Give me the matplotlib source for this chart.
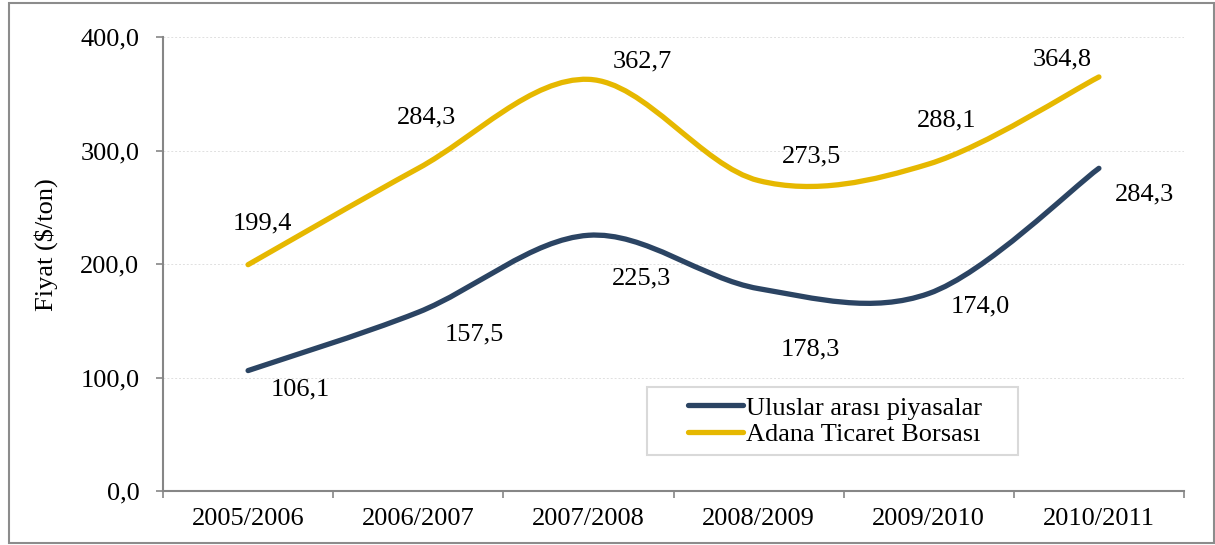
import matplotlib
matplotlib.use("Agg")
import matplotlib.pyplot as plt
from matplotlib.path import Path
from matplotlib.patches import PathPatch, Rectangle
from matplotlib.lines import Line2D

categories = ["2005/2006", "2006/2007", "2007/2008", "2008/2009", "2009/2010", "2010/2011"]
uluslar = [106.1, 157.5, 225.3, 178.3, 174.0, 284.3]
adana = [199.4, 284.3, 362.7, 273.5, 288.1, 364.8]
series_names = ["Uluslar arası piyasalar", "Adana Ticaret Borsası"]
yticks = [0, 100, 200, 300, 400]

# label offsets in pixels (dx, dy up)
off_adana = [(14, 41), (8, 51), (54, 18), (53, 24), (18, 44), (-37, 17)]
off_ulus = [(52, -19), (56, -22), (53, -43), (52, -61), (52, -13), (46, -26)]

NAVY = "#2B4463"
GOLD = "#E6B800"
FONT = "Liberation Serif"
FS = 19

plt.rcParams["font.family"] = [FONT, "DejaVu Serif"]

fig = plt.figure(figsize=(12.15, 5.45), dpi=100)
ax = fig.add_axes([163 / 1215, 54 / 545, 1021 / 1215, 454 / 545])


def smooth_path(ys):
    xs = list(range(len(ys)))
    pts = list(zip(xs, ys))
    n = len(pts)
    verts = [pts[0]]
    codes = [Path.MOVETO]
    for i in range(n - 1):
        p0 = pts[i - 1] if i > 0 else pts[i]
        p1 = pts[i]
        p2 = pts[i + 1]
        p3 = pts[i + 2] if i + 2 < n else pts[i + 1]
        c1 = (p1[0] + (p2[0] - p0[0]) / 6, p1[1] + (p2[1] - p0[1]) / 6)
        c2 = (p2[0] - (p3[0] - p1[0]) / 6, p2[1] - (p3[1] - p1[1]) / 6)
        verts += [c1, c2, p2]
        codes += [Path.CURVE4] * 3
    return Path(verts, codes)


for ys, col in [(uluslar, NAVY), (adana, GOLD)]:
    ax.add_patch(PathPatch(smooth_path(ys), facecolor="none", edgecolor=col,
                           lw=3.8, capstyle="round", joinstyle="round", zorder=3))

for ys, offs in [(adana, off_adana), (uluslar, off_ulus)]:
    for i, (v, o) in enumerate(zip(ys, offs)):
        ax.annotate(f"{v:.1f}".replace(".", ","), (i, v), xytext=o,
                    textcoords="offset pixels", ha="center", va="center",
                    fontsize=FS, color="black", zorder=4)

ax.set_xlim(-0.5, len(categories) - 0.5)
ax.set_ylim(0, 400)
ax.set_yticks(yticks)
ax.set_yticklabels([f"{t:.1f}".replace(".", ",") for t in yticks], fontsize=FS)
ax.set_xticks(range(len(categories)))
ax.set_xticklabels(categories, fontsize=FS)
ax.set_xticks([k - 0.5 for k in range(len(categories) + 1)], minor=True)
ax.tick_params(axis="x", which="major", length=0, pad=12)
ax.tick_params(axis="x", which="minor", length=5, width=1.2, color="#868686", direction="out")
ax.tick_params(axis="y", which="major", length=5, width=1.2, color="#868686", pad=12)

for s in ["top", "right"]:
    ax.spines[s].set_visible(False)
for s in ["left", "bottom"]:
    ax.spines[s].set_color("#868686")
    ax.spines[s].set_linewidth(1.5)

ax.yaxis.grid(True, color="#E0E0E0", linestyle=(0, (2, 2)), linewidth=0.7)
ax.set_axisbelow(True)

ax.set_ylabel("Fiyat ($/ton)", fontsize=FS)
ax.yaxis.set_label_coords(-0.1028, 0.542)

handles = [Line2D([], [], color=NAVY, lw=3.8, solid_capstyle="round"),
           Line2D([], [], color=GOLD, lw=3.8, solid_capstyle="round")]
fig.legend(handles, series_names, loc="center", bbox_to_anchor=(835 / 1215, (545 - 421) / 545),
           bbox_transform=fig.transFigure, frameon=False, fontsize=FS,
           handlelength=2.1, handletextpad=0.1, labelspacing=0.1, borderpad=0.1)
fig.patches.append(Rectangle((647 / 1215, (545 - 455) / 545), 371 / 1215, 68 / 545,
                             transform=fig.transFigure, facecolor="none",
                             edgecolor="#D9D9D9", lw=1.5, zorder=1))

fig.patches.append(Rectangle((9 / 1215, 2 / 545), 1205 / 1215, 540 / 545,
                             transform=fig.transFigure, facecolor="none",
                             edgecolor="#8C8C8C", lw=1.5, zorder=0))

fig.savefig("out.png", dpi=100)
